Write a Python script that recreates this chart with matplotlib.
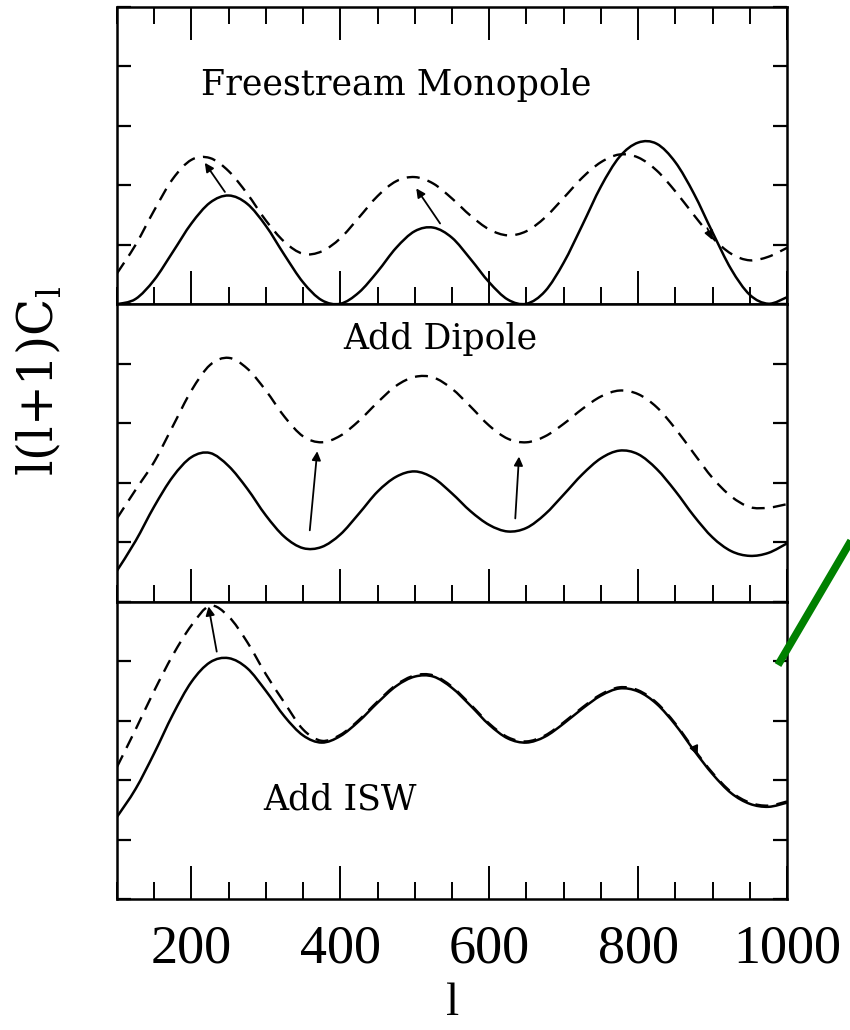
import numpy as np
import matplotlib.pyplot as plt
from matplotlib.path import Path
from matplotlib.patches import PathPatch
from matplotlib.ticker import MultipleLocator

# multipole grid (l)
ell = [100, 125, 150, 175, 200, 225, 250, 275, 300, 325, 350, 375, 400, 425,
       450, 475, 500, 525, 550, 575, 600, 625, 650, 675, 700, 725, 750, 775,
       800, 825, 850, 875, 900, 925, 950, 975, 1000]

# panel 1: freestream monopole (solid) and with shift (dashed)
mono_solid = [0.00, 0.09, 0.41, 0.88, 1.36, 1.71, 1.83, 1.69, 1.32, 0.83, 0.37, 0.07,
              0.01, 0.20, 0.55, 0.95, 1.23, 1.29, 1.12, 0.76, 0.37, 0.08, 0.01, 0.22,
              0.70, 1.33, 1.98, 2.48, 2.72, 2.70, 2.39, 1.86, 1.21, 0.59, 0.16, 0.01, 0.12]
mono_dash = [0.52, 1.00, 1.58, 2.11, 2.43, 2.46, 2.24, 1.86, 1.41, 1.05, 0.85, 0.89,
             1.11, 1.46, 1.82, 2.07, 2.14, 2.03, 1.78, 1.49, 1.26, 1.16, 1.23, 1.46,
             1.79, 2.13, 2.39, 2.52, 2.47, 2.25, 1.90, 1.50, 1.12, 0.85, 0.74, 0.80, 0.95]

# panel 2: add dipole
dip_solid = [0.52, 1.02, 1.60, 2.10, 2.43, 2.50, 2.28, 1.90, 1.45, 1.09, 0.90, 0.92,
             1.13, 1.48, 1.85, 2.10, 2.19, 2.08, 1.82, 1.52, 1.29, 1.18, 1.24, 1.47,
             1.80, 2.14, 2.41, 2.54, 2.48, 2.23, 1.86, 1.44, 1.08, 0.85, 0.77, 0.82, 0.98]
dip_dash = [1.40, 1.88, 2.35, 2.95, 3.55, 3.98, 4.10, 3.92, 3.55, 3.11, 2.78, 2.68,
            2.79, 3.04, 3.35, 3.63, 3.78, 3.77, 3.58, 3.28, 2.96, 2.74, 2.68, 2.78,
            2.99, 3.24, 3.45, 3.55, 3.49, 3.27, 2.91, 2.49, 2.08, 1.77, 1.59, 1.58, 1.64]

# panel 3: add ISW
isw_solid = [1.38, 1.85, 2.45, 3.10, 3.65, 3.98, 4.05, 3.88, 3.50, 3.07, 2.75, 2.63,
             2.74, 2.99, 3.30, 3.58, 3.74, 3.74, 3.55, 3.25, 2.93, 2.70, 2.63, 2.73,
             2.95, 3.20, 3.42, 3.54, 3.49, 3.28, 2.93, 2.50, 2.10, 1.78, 1.60, 1.55, 1.62]
isw_dash = [2.22, 2.85, 3.50, 4.10, 4.60, 4.93, 4.75, 4.32, 3.78, 3.30, 2.85, 2.66,
            2.76, 3.01, 3.32, 3.60, 3.76, 3.76, 3.57, 3.27, 2.95, 2.72, 2.65, 2.75,
            2.97, 3.22, 3.44, 3.56, 3.51, 3.30, 2.95, 2.52, 2.12, 1.80, 1.62, 1.57, 1.64]

# arrows per panel: (l_tail, y_tail, l_head, y_head)
arrows = [
    [(245, 1.89, 218, 2.38), (534, 1.36, 502, 1.95), (893, 1.28, 900, 1.08)],
    [(359, 1.20, 369, 2.53), (635, 1.40, 640, 2.44)],
    [(234, 4.16, 223, 4.92), (875, 2.56, 880, 2.42)],
]
labels = ['Freestream Monopole', 'Add Dipole', 'Add ISW']
label_pos = [(0.416, 0.737), (0.482, 0.882), (0.333, 0.334)]

panels = [(mono_solid, mono_dash), (dip_solid, dip_dash), (isw_solid, isw_dash)]


def smooth_path(x, y):
    # cubic bezier through every read point (catmull-rom style handles)
    p = np.column_stack([x, y]).astype(float)
    verts = [p[0]]
    codes = [Path.MOVETO]
    n = len(p)
    for i in range(n - 1):
        p0 = p[max(i - 1, 0)]
        p3 = p[min(i + 2, n - 1)]
        c1 = p[i] + (p[i + 1] - p0) / 6
        c2 = p[i + 1] - (p3 - p[i]) / 6
        verts += [c1, c2, p[i + 1]]
        codes += [Path.CURVE4] * 3
    return Path(verts, codes)


plt.rcParams['font.family'] = ['Liberation Serif', 'DejaVu Serif']
plt.rcParams['mathtext.fontset'] = 'custom'
plt.rcParams['mathtext.rm'] = 'DejaVu Serif'

fig, axes = plt.subplots(3, 1, figsize=(8.5, 10.3), dpi=100, sharex=True)
fig.subplots_adjust(left=0.1376, right=0.9259, top=0.9932, bottom=0.1272, hspace=0)

for i, ax in enumerate(axes):
    solid, dash = panels[i]
    ax.add_patch(PathPatch(smooth_path(ell, solid), fill=False, ec='black', lw=1.8))
    ax.add_patch(PathPatch(smooth_path(ell, dash), fill=False, ec='black', lw=1.7,
                           linestyle=(0, (5.5, 3.5))))
    for (x0, y0, x1, y1) in arrows[i]:
        ax.annotate('', xy=(x1, y1), xytext=(x0, y0),
                    arrowprops=dict(arrowstyle='-|>', color='black', lw=1.3,
                                    mutation_scale=13, shrinkA=0, shrinkB=0))
    ax.text(label_pos[i][0], label_pos[i][1], labels[i], transform=ax.transAxes,
            ha='center', va='center', fontsize=25, family='DejaVu Serif')
    ax.set_xlim(100, 1000)
    ax.set_ylim(0, 5)
    ax.xaxis.set_major_locator(MultipleLocator(200))
    ax.xaxis.set_minor_locator(MultipleLocator(50))
    ax.yaxis.set_major_locator(MultipleLocator(1))
    ax.tick_params(axis='x', which='major', direction='in', length=24, width=1.4,
                   top=(i == 0), bottom=True, labelsize=39, pad=18)
    ax.tick_params(axis='x', which='minor', direction='in', length=12, width=1.4,
                   top=(i == 0), bottom=True)
    ax.tick_params(axis='y', which='major', direction='in', length=10, width=1.6,
                   left=True, right=True, labelleft=False)
    for s in ax.spines.values():
        s.set_linewidth(1.8)

# x label placed just above the lower edge so its box stays inside the figure
fig.text(0.532, 0.005, 'l', ha='center', va='bottom', fontsize=34)
fig.text(0.046, 0.630, r'l(l+1)C$_{\mathregular{l}}$', rotation=90,
         ha='center', va='center', fontsize=35, family='DejaVu Serif')

# green annotation stroke on the right edge
fig.add_artist(plt.Line2D([778 / 850, 862 / 850], [1 - 665 / 1030, 1 - 522 / 1030],
                          color='#008000', lw=5.5, transform=fig.transFigure,
                          solid_capstyle='butt'))

fig.savefig('out.png', dpi=100)
